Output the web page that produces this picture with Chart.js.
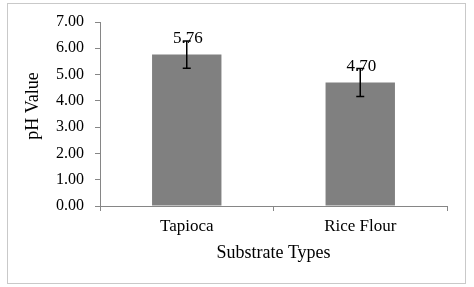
<!DOCTYPE html>
<html>
<head>
<meta charset="utf-8">
<script src="https://cdn.jsdelivr.net/npm/chart.js@4"></script>
<style>
  html, body { margin: 0; padding: 0; background: #fff; }
  #wrap { width: 474px; height: 287px; }
</style>
</head>
<body>
<div id="wrap"><canvas id="grafico" width="474" height="287"></canvas></div>
<script>
const categorias = ["Tapioca", "Rice Flour"];
const valoresPH = [5.76, 4.70];
const errosPH = [0.52, 0.53];
const rotulosY = [0, 1, 2, 3, 4, 5, 6, 7];

const fonte = "'Liberation Serif', 'Times New Roman', serif";
const corTexto = "#000";
const corEixo = "#868686";

// moldura externa e titulo do eixo y
const molduraPlugin = {
  id: "moldura",
  beforeDraw(chart) {
    const ctx = chart.ctx;
    ctx.save();
    ctx.fillStyle = "#fff";
    ctx.fillRect(0, 0, chart.width, chart.height);
    ctx.strokeStyle = "#c9c9c9";
    ctx.lineWidth = 1;
    ctx.strokeRect(7.5, 3.5, 458, 280);
    ctx.restore();
  },
  afterDraw(chart) {
    const ctx = chart.ctx;
    const area = chart.chartArea;
    ctx.save();
    ctx.translate(33, (area.top + area.bottom) / 2 - 8);
    ctx.rotate(-Math.PI / 2);
    ctx.fillStyle = corTexto;
    ctx.font = "18px " + fonte;
    ctx.textAlign = "center";
    ctx.textBaseline = "middle";
    ctx.fillText("pH Value", 0, 0);
    ctx.restore();
  }
};

// barras de erro e rotulos de valor
const errosPlugin = {
  id: "erros",
  afterDatasetsDraw(chart) {
    const ctx = chart.ctx;
    const meta = chart.getDatasetMeta(0);
    const y = chart.scales.y;
    ctx.save();
    meta.data.forEach((barra, i) => {
      const x = barra.x;
      const topo = y.getPixelForValue(valoresPH[i] + errosPH[i]);
      const base = y.getPixelForValue(valoresPH[i] - errosPH[i]);

      ctx.fillStyle = corTexto;
      ctx.font = "17px " + fonte;
      ctx.textAlign = "center";
      ctx.textBaseline = "middle";
      ctx.fillText(valoresPH[i].toFixed(2), x + 1, barra.y - 16);

      ctx.strokeStyle = "#000";
      ctx.lineWidth = 1.5;
      ctx.beginPath();
      ctx.moveTo(x, topo);
      ctx.lineTo(x, base);
      ctx.moveTo(x - 4, topo);
      ctx.lineTo(x + 4, topo);
      ctx.moveTo(x - 4, base);
      ctx.lineTo(x + 4, base);
      ctx.stroke();
    });
    ctx.restore();
  }
};

new Chart(document.getElementById("grafico"), {
  type: "bar",
  data: {
    labels: categorias,
    datasets: [{
      label: "pH Value",
      data: valoresPH,
      backgroundColor: "#808080",
      borderWidth: 0,
      barPercentage: 0.5,
      categoryPercentage: 0.8
    }]
  },
  options: {
    responsive: false,
    animation: false,
    layout: { padding: { left: 18, right: 27, top: 22, bottom: 19 } },
    plugins: {
      legend: { display: false },
      tooltip: { enabled: false }
    },
    scales: {
      x: {
        afterFit: s => { s.height = 62; },
        grid: { drawOnChartArea: false, drawTicks: true, tickLength: 5, color: corEixo },
        border: { color: corEixo },
        ticks: { color: corTexto, font: { family: fonte, size: 17 }, padding: 5 },
        title: { display: true, text: "Substrate Types", color: corTexto, font: { family: fonte, size: 18 } }
      },
      y: {
        min: 0,
        max: 7,
        afterFit: s => { s.width = 82; },
        afterBuildTicks: s => { s.ticks = rotulosY.map(v => ({ value: v })); },
        grid: { drawOnChartArea: false, drawTicks: true, tickLength: 5, color: corEixo },
        border: { color: corEixo },
        ticks: {
          color: corTexto,
          font: { family: fonte, size: 16 },
          padding: 11,
          callback: v => Number(v).toFixed(2)
        },
        title: { display: false }
      }
    }
  },
  plugins: [molduraPlugin, errosPlugin]
});
</script>
</body>
</html>
